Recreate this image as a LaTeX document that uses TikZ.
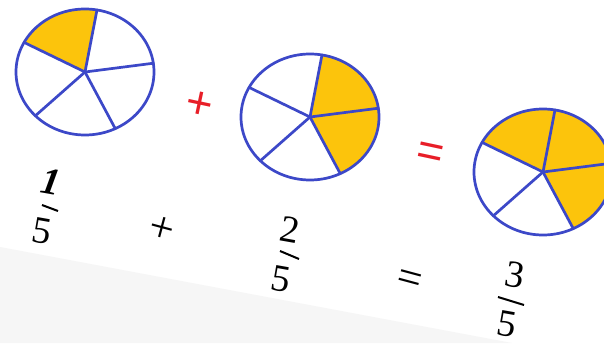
\documentclass[tikz,border=0pt]{standalone}
\usepackage{fontspec}
\setmainfont{Liberation Serif}
\newfontfamily\symsans{Liberation Sans}
\definecolor{pieblue}{RGB}{60,72,200}
\definecolor{pieyellow}{RGB}{252,196,12}
\definecolor{symred}{RGB}{232,30,40}
\definecolor{bggray}{RGB}{246,246,246}
\tikzset{
  pieline/.style={draw=pieblue, line width=2.7pt, line cap=round, line join=round},
  piefill/.style={fill=pieyellow},
  digit/.style={inner sep=0pt, font=\fontsize{38}{38}\selectfont, rotate=-10},
  fracbar/.style={draw=black, line width=2pt},
  blacksym/.style={inner sep=0pt, font=\fontsize{44}{44}\selectfont, rotate=-15},
  redsym/.style={inner sep=0pt, text=symred, font=\symsans\fontsize{46}{46}\selectfont, rotate=-12}
}
\begin{document}
\begin{tikzpicture}[x=1pt,y=1pt]
\useasboundingbox (0,0) rectangle (604,343);
\clip (0,0) rectangle (604,343);
\fill[white] (0,0) rectangle (604,343);
\fill[bggray] (0,96) -- (512,0) -- (0,0) -- cycle;
% centres
\coordinate (c1) at (85,271);
\coordinate (c2) at (310,226);
\coordinate (c3) at (543,171);
% yellow sectors
\fill[piefill] (c1) -- ++(80:69 and 63) arc[start angle=80, end angle=152, x radius=69, y radius=63] -- cycle;
\fill[piefill] (c2) -- ++(-64:69 and 63) arc[start angle=-64, end angle=80, x radius=69, y radius=63] -- cycle;
\fill[piefill] (c3) -- ++(-64:69 and 63) arc[start angle=-64, end angle=152, x radius=69, y radius=63] -- cycle;
% outlines and spokes
\foreach \c in {c1,c2,c3}{
  \draw[pieline] (\c) ellipse[x radius=69, y radius=63];
  \foreach \a in {8,80,152,224,296}{
    \draw[pieline] (\c) -- ++(\a:69 and 63);
  }
}
% red symbols
\node[redsym] (rplus) at (199,238) {+};
\node[redsym] (requal) at (430,188) {=};
% fractions
\node[digit, font=\fontsize{38}{38}\selectfont\bfseries\itshape] (n1) at (51,161) {1};
\node[digit] (d1) at (42,112) {5};
\coordinate (b1a) at (42,138); \coordinate (b1b) at (58,132);
\draw[fracbar] (b1a) -- (b1b);
\node[blacksym] (bplus) at (162,113) {+};
\node[digit] (n2) at (290,113) {2};
\node[digit] (d2) at (281,64) {5};
\coordinate (b2a) at (280,92); \coordinate (b2b) at (299,84);
\draw[fracbar] (b2a) -- (b2b);
\node[blacksym] (bequal) at (409,61) {=};
\node[digit] (n3) at (515,68) {3};
\node[digit] (d3) at (507,19) {5};
\coordinate (b3a) at (498,46); \coordinate (b3b) at (524,38);
\draw[fracbar] (b3a) -- (b3b);
\end{tikzpicture}
\end{document}
